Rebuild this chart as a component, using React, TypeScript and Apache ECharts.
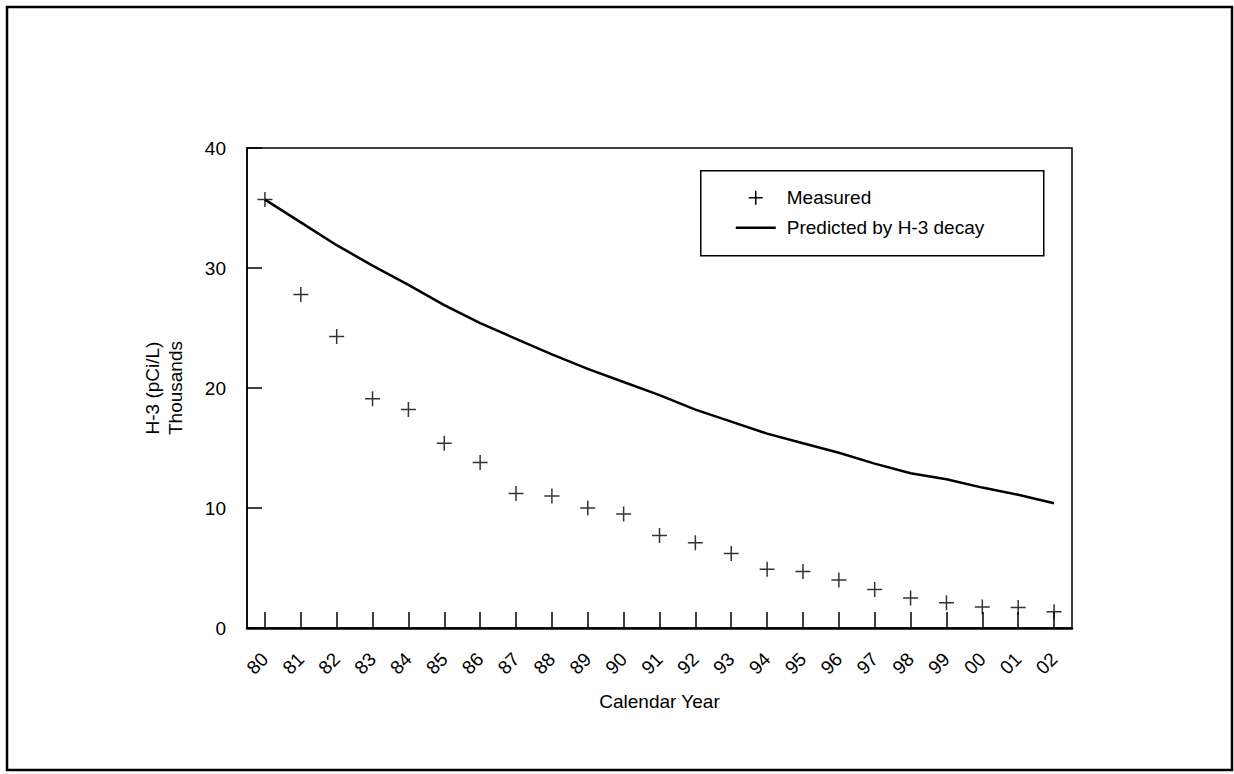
import React, { useEffect, useRef } from "react";
import * as echarts from "echarts";

const years = ["80","81","82","83","84","85","86","87","88","89","90","91","92","93","94","95","96","97","98","99","00","01","02"];
const measured = [35.7, 27.8, 24.3, 19.1, 18.2, 15.4, 13.8, 11.2, 11.0, 10.0, 9.5, 7.7, 7.1, 6.2, 4.9, 4.7, 4.0, 3.2, 2.5, 2.1, 1.75, 1.7, 1.35];
const predicted = [35.7, 33.8, 31.9, 30.2, 28.6, 26.9, 25.4, 24.1, 22.8, 21.6, 20.5, 19.4, 18.2, 17.2, 16.2, 15.4, 14.6, 13.7, 12.9, 12.4, 11.7, 11.1, 10.4];
const yTicks = { min: 0, max: 40, interval: 10 };
const legendNames = ["Measured", "Predicted by H-3 decay"];

const FONT = "'Liberation Sans', Arial, Helvetica, sans-serif";
const PLUS = "path://M0,10 L20,10 M10,0 L10,20";

export default function App() {
  const ref = useRef<HTMLDivElement>(null);
  useEffect(() => {
    if (!ref.current) return;
    const chart = echarts.init(ref.current, undefined, { renderer: "svg" });
    const txt = { fill: "#000", fontSize: 19, fontFamily: FONT, verticalAlign: "middle" as const };
    chart.setOption({
      animation: false,
      backgroundColor: "#fff",
      textStyle: { fontFamily: FONT, color: "#000" },
      grid: {
        left: 247, top: 148, right: 162, bottom: 146,
        show: true, borderColor: "#000", borderWidth: 1.5, backgroundColor: "transparent",
      },
      xAxis: {
        type: "category",
        data: years,
        boundaryGap: true,
        name: "Calendar Year",
        nameLocation: "middle",
        nameGap: 64,
        nameTextStyle: { fontSize: 19, color: "#000", fontFamily: FONT },
        axisLine: { show: true, lineStyle: { color: "#000", width: 2.5 } },
        axisTick: { show: true, interval: 0, alignWithLabel: true, inside: true, length: 16, lineStyle: { color: "#000", width: 1.5 } },
        axisLabel: { show: true, rotate: 45, fontSize: 19, color: "#000", margin: 28, fontFamily: FONT, interval: 0 },
        splitLine: { show: false },
        z: 5,
      },
      yAxis: {
        type: "value",
        min: yTicks.min, max: yTicks.max, interval: yTicks.interval,
        name: "H-3 (pCi/L)\nThousands",
        nameLocation: "middle",
        nameGap: 60,
        nameTextStyle: { fontSize: 19, color: "#000", fontFamily: FONT, lineHeight: 23 },
        axisLine: { show: true, lineStyle: { color: "#000", width: 1.5 } },
        axisTick: { show: true, inside: true, length: 15, lineStyle: { color: "#000", width: 1.5 } },
        axisLabel: { fontSize: 19, color: "#000", margin: 21, fontFamily: FONT },
        splitLine: { show: false },
      },
      graphic: [
        {
          type: "rect",
          shape: { x: 7, y: 7, width: 1225, height: 763 },
          style: { fill: "none", stroke: "#000", lineWidth: 2.5 },
          silent: true,
        },
        {
          type: "group",
          left: 700,
          top: 170,
          children: [
            { type: "rect", shape: { x: 0, y: 0, width: 343, height: 85 }, style: { fill: "#fff", stroke: "#000", lineWidth: 1.5 } },
            { type: "line", shape: { x1: 48, y1: 27, x2: 62, y2: 27 }, style: { stroke: "#000", lineWidth: 1.5 } },
            { type: "line", shape: { x1: 55, y1: 20, x2: 55, y2: 34 }, style: { stroke: "#000", lineWidth: 1.5 } },
            { type: "text", x: 86, y: 27, style: { ...txt, text: legendNames[0] } },
            { type: "line", shape: { x1: 35, y1: 57, x2: 75, y2: 57 }, style: { stroke: "#000", lineWidth: 2.5 } },
            { type: "text", x: 86, y: 57, style: { ...txt, text: legendNames[1] } },
          ],
          z: 10,
        },
      ],
      series: [
        {
          name: legendNames[0],
          type: "scatter",
          data: measured,
          symbol: PLUS,
          symbolSize: 15,
          itemStyle: { color: "#000", borderColor: "#000", borderWidth: 1.5 },
          z: 3,
        },
        {
          name: legendNames[1],
          type: "line",
          data: predicted,
          symbol: "none",
          lineStyle: { color: "#000", width: 2.5 },
          z: 2,
        },
      ],
    });
    return () => chart.dispose();
  }, []);
  return <div ref={ref} style={{ position: "absolute", left: 0, top: 0, width: 1234, height: 774 }} />;
}
